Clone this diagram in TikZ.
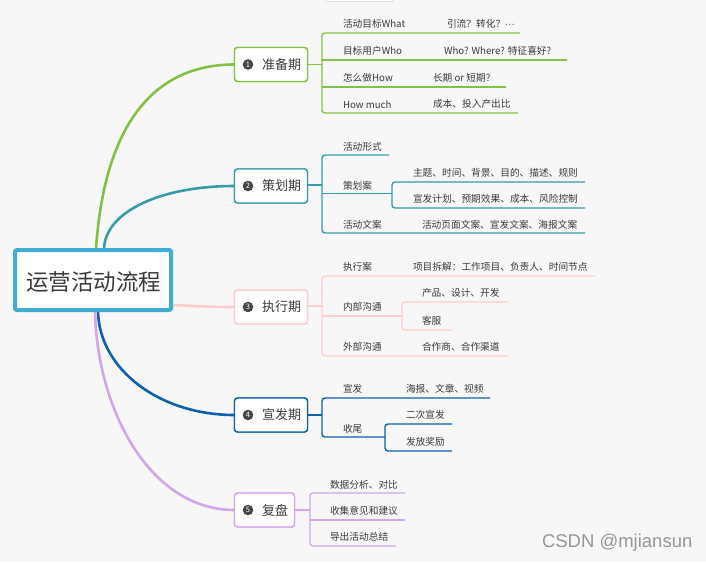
\documentclass[tikz,border=0pt]{standalone}
\usepackage{fontspec}
\setmainfont{Noto Sans CJK SC}
\newfontfamily\wmfont{Liberation Sans}
\definecolor{bg}{RGB}{247,247,247}
\definecolor{txt}{RGB}{58,58,58}
\definecolor{rootc}{RGB}{64,172,210}
\definecolor{gc}{RGB}{131,192,70}
\definecolor{tc}{RGB}{55,155,168}
\definecolor{pc}{RGB}{255,204,204}
\definecolor{bc}{RGB}{14,96,176}
\definecolor{vc}{RGB}{210,166,234}
\definecolor{numc}{RGB}{70,70,70}
\definecolor{wmc}{RGB}{150,150,150}
\begin{document}
\begin{tikzpicture}[x=1pt,y=-1pt,
  every node/.style={inner sep=0pt,outer sep=0pt},
  subtext/.style={anchor=west,text=txt,font=\fontsize{9.7}{11}\selectfont},
  l1box/.style={draw,line width=1.4pt,rounded corners=3pt,fill=white,minimum width=73,minimum height=34},
  l1text/.style={anchor=west,text=txt,font=\fontsize{13}{15}\selectfont},
  numdot/.style={circle,fill=numc,minimum size=10.6,text=white,font=\fontsize{7.5}{8}\selectfont},
  branch/.style={line width=2.6pt,line cap=round},
  brk/.style={line width=1.4pt,rounded corners=3pt},
  uline/.style={line width=1.4pt}]
\fill[bg] (0,0) rectangle (706,562);
\useasboundingbox (0,0) rectangle (706,562);
% faint cut-off element at the top
\draw[black!12,fill=white,line width=0.6pt] (325,-3) rectangle (392,1.2);

% curve start points on the root
\coordinate (gS) at (96,249);
\coordinate (tS) at (104,249);
\coordinate (pS) at (172,305);
\coordinate (bS) at (98,311);
\coordinate (vS) at (95,311);

% level-1 boxes (drawn later too)
\node[l1box,draw=gc] (b1) at (271,64.5) {};
\node[l1box,draw=tc] (b2) at (271,186) {};
\node[l1box,draw=pc] (b3) at (271,307) {};
\node[l1box,draw=bc] (b4) at (271,415) {};
\node[l1box,draw=vc,minimum width=60] (b5) at (264.5,510) {};

% branches from root
\draw[branch,gc] (gS) .. controls (104,130) and (150,64.5) .. (b1.west);
\draw[branch,tc] (tS) .. controls (105,212) and (160,186) .. (b2.west);
\draw[branch,pc] (pS) .. controls (195,306) and (210,307) .. (b3.west);
\draw[branch,bc] (bS) .. controls (99,369) and (159,415) .. (b4.west);
\draw[branch,vc] (vS) .. controls (97,410) and (150,510) .. (b5.west);

% root
\node[draw=rootc,line width=4pt,fill=white,minimum width=156,minimum height=60,rounded corners=2pt] (root) at (93,280) {};
\node[text=txt,font=\fontsize{22.5}{26}\selectfont] (roottext) at (93.5,282) {运营活动流程};

% redraw level-1 boxes on top of curve ends
\node[l1box,draw=gc] at (b1) {};
\node[l1box,draw=tc] at (b2) {};
\node[l1box,draw=pc] at (b3) {};
\node[l1box,draw=bc] at (b4) {};
\node[l1box,draw=vc,minimum width=60] at (b5) {};

\node[numdot] (n1) at (248,64.5) {1};
\node[numdot] (n2) at (248,186) {2};
\node[numdot] (n3) at (248,307) {3};
\node[numdot] (n4) at (248,415) {4};
\node[numdot] (n5) at (248,510) {5};
\node[l1text] (t1) at (262,64.5) {准备期};
\node[l1text] (t2) at (262,186) {策划期};
\node[l1text] (t3) at (262,307) {执行期};
\node[l1text] (t4) at (262,415) {宣发期};
\node[l1text] (t5) at (262,510) {复盘};

% ---------- branch 1 ----------
\coordinate (k1) at (322,64.5);
\draw[uline,gc] (b1.east |- k1) -- (k1);
\draw[brk,gc] (520,33) -- (322,33) -- (322,113) -- (518,113);
\draw[uline,gc] (322,60) -- (567,60);
\draw[uline,gc] (322,87) -- (506,87);
\node[subtext] (a11) at (343,24) {活动目标What};
\node[subtext] (a12) at (447,24) {引流？转化？{\wmfont ···}};
\node[subtext] (a21) at (343,50.5) {目标用户Who};
\node[subtext] (a22) at (444,50.5) {Who? Where? 特征喜好?};
\node[subtext] (a31) at (343,77.7) {怎么做How};
\node[subtext] (a32) at (433,77.7) {长期 or 短期?};
\node[subtext] (a41) at (343,104.3) {How much};
\node[subtext] (a42) at (433,104.3) {成本、投入产出比};

% ---------- branch 2 ----------
\coordinate (k2) at (322,185);
\draw[uline,tc] (b2.east |- k2) -- (k2);
\draw[brk,tc] (389,155) -- (322,155) -- (322,233) -- (585,233);
\draw[uline,tc] (322,193.5) -- (392,193.5);
\draw[brk,tc] (585,182) -- (392,182) -- (392,208) -- (585,208);
\node[subtext] (c11) at (343,147) {活动形式};
\node[subtext] (c21) at (343,186) {策划案};
\node[subtext] (c22) at (413,173) {主题、时间、背景、目的、描述、规则};
\node[subtext] (c23) at (413,199) {宣发计划、预期效果、成本、风险控制};
\node[subtext] (c31) at (343,225) {活动文案};
\node[subtext] (c32) at (422,225) {活动页面文案、宣发文案、海报文案};

% ---------- branch 3 ----------
\coordinate (k3) at (322,306);
\draw[uline,pc] (b3.east |- k3) -- (k3);
\draw[brk,pc] (595,276) -- (322,276) -- (322,356) -- (508,356);
\draw[uline,pc] (322,316) -- (402,316);
\draw[brk,pc] (508,302) -- (402,302) -- (402,330) -- (452,330);
\node[subtext] (e11) at (343,267) {执行案};
\node[subtext] (e12) at (413,267) {项目拆解：工作项目、负责人、时间节点};
\node[subtext] (e21) at (343,307) {内部沟通};
\node[subtext] (e22) at (422,293) {产品、设计、开发};
\node[subtext] (e23) at (422,321) {客服};
\node[subtext] (e31) at (343,347) {外部沟通};
\node[subtext] (e32) at (422,347) {合作商、合作渠道};

% ---------- branch 4 ----------
\coordinate (k4) at (322,415);
\draw[uline,bc] (b4.east |- k4) -- (k4);
\draw[brk,bc] (490,398) -- (322,398) -- (322,437) -- (385,437);
\draw[brk,bc] (452,424) -- (385,424) -- (385,451) -- (452,451);
\node[subtext] (f11) at (343,389) {宣发};
\node[subtext] (f12) at (406,389) {海报、文章、视频};
\node[subtext] (f21) at (343,429) {收尾};
\node[subtext] (f22) at (406,415) {二次宣发};
\node[subtext] (f23) at (406,442) {发放奖励};

% ---------- branch 5 ----------
\coordinate (k5) at (310,510);
\draw[uline,vc] (b5.east |- k5) -- (k5);
\draw[brk,vc] (405,493) -- (310,493) -- (310,546) -- (396,546);
\draw[uline,vc] (310,520) -- (405,520);
\node[subtext] (h1) at (330,485) {数据分析、对比};
\node[subtext] (h2) at (330,510.5) {收集意见和建议};
\node[subtext] (h3) at (330,537) {导出活动总结};

% watermark
\node[anchor=west,text=wmc,font=\wmfont\fontsize{18.5}{20}\selectfont] (wm) at (542,543) {CSDN @mjiansun};
\end{tikzpicture}
\end{document}
